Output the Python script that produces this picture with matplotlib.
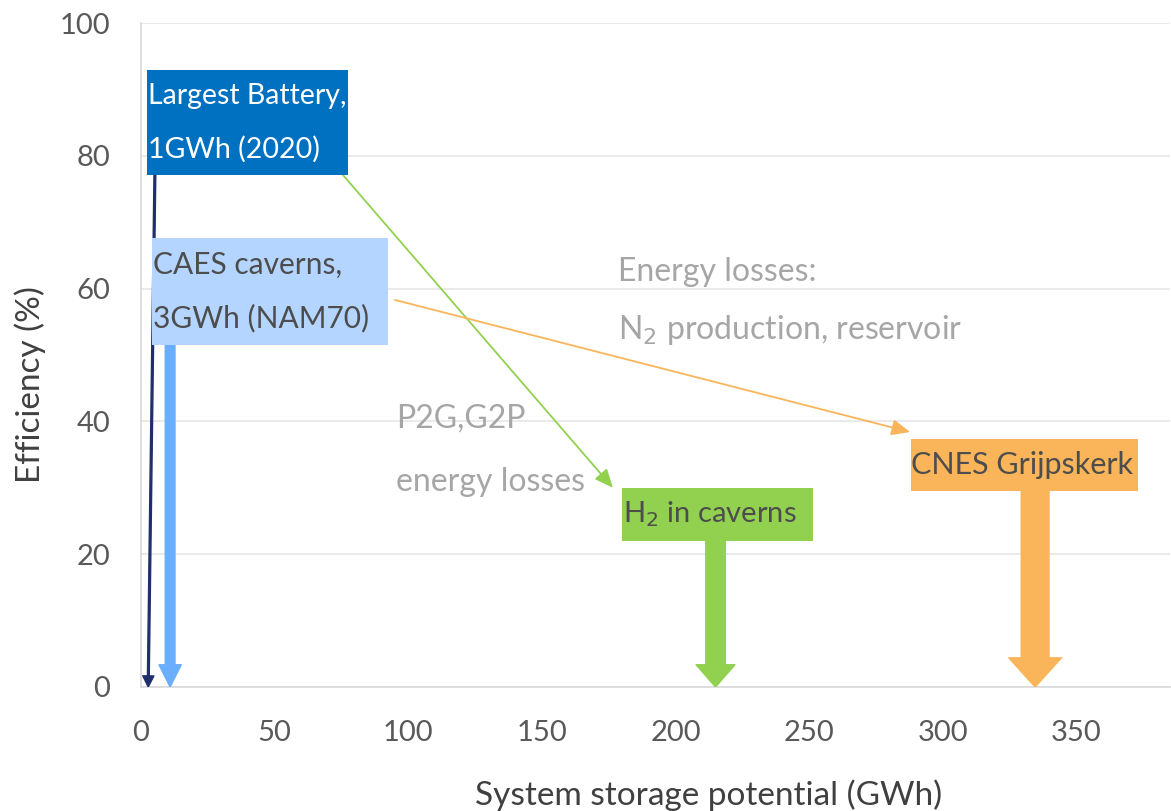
import matplotlib.pyplot as plt
from matplotlib.patches import Rectangle, FancyArrowPatch

plt.rcParams['font.family'] = ['Lato', 'DejaVu Sans']

# storage systems: vertical arrows from efficiency down to the x axis
systems = ["Largest Battery,\n1GWh (2020)", "CAES caverns,\n3GWh (NAM70)", "H$_2$ in caverns", "CNES Grijpskerk"]
arrow_x_top = [5.2, 10.9, 215, 334.6]
arrow_x_bottom = [2.7, 10.9, 215, 334.6]
arrow_y_top = [77.1, 51.5, 22.0, 29.5]
box_colors = ["#0070C0", "#B4D5FF", "#92D050", "#FAB55A"]
arrow_colors = ["#1F2F6B", "#6AAEFF", "#92D050", "#FAB55A"]
text_colors = ["white", "#4D4D4D", "#4D4D4D", "#4D4D4D"]
text_sizes = [20.5, 21.5, 21, 22]
# arrow sizes in points: shaft, head width, head length
shaft_w = [1.3, 7, 14, 20]
head_w = [8, 16, 28, 38]
head_l = [8, 16, 16, 21]

# label boxes (x0, x1, y0, y1)
box_x0 = [2.2, 4.1, 180.0, 288.0]
box_x1 = [77.5, 92.4, 251.5, 373.0]
box_y0 = [77.1, 51.5, 22.0, 29.5]
box_y1 = [92.9, 67.6, 30.0, 37.3]

# loss arrows between systems
loss_start = [(75.6, 77.1), (95.0, 58.3)]
loss_end = [(176.6, 30.0), (287.8, 38.4)]
loss_colors = ["#92D050", "#FAB55A"]

x_ticks = [0, 50, 100, 150, 200, 250, 300, 350]
y_ticks = [0, 20, 40, 60, 80, 100]

fig = plt.figure(figsize=(11.71, 8.11), dpi=100)
ax = fig.add_axes([0.1204, 0.1529, 0.8786, 0.8187])
ax.set_xlim(0, 385)
ax.set_ylim(0, 100)

ax.set_xticks(x_ticks)
ax.set_yticks(y_ticks)
ax.tick_params(length=0, labelsize=21, colors="#595959", pad=22)
ax.tick_params(axis="x", pad=24)
ax.grid(axis="y", color="#E6E6E6", linewidth=1.2)
ax.set_axisbelow(True)
for side in ["top", "right"]:
    ax.spines[side].set_visible(False)
for side in ["left", "bottom"]:
    ax.spines[side].set_color("#D9D9D9")
    ax.spines[side].set_linewidth(1.2)

ax.set_xlabel("System storage potential (GWh)", fontsize=24, color="#404040", va="center")
ax.xaxis.set_label_coords(0.552, -0.163)
ax.set_ylabel("Efficiency (%)", fontsize=24, color="#404040", va="center")
ax.yaxis.set_label_coords(-0.108, 0.455)

# vertical arrows
for i in range(len(systems)):
    style = "simple,head_width=%g,head_length=%g,tail_width=%g" % (head_w[i], head_l[i], shaft_w[i])
    arr = FancyArrowPatch((arrow_x_top[i], arrow_y_top[i]), (arrow_x_bottom[i], 0),
                          arrowstyle=style, mutation_scale=1, color=arrow_colors[i],
                          shrinkA=0, shrinkB=0, zorder=3)
    ax.add_patch(arr)

# boxes with labels
for i in range(len(systems)):
    ax.add_patch(Rectangle((box_x0[i], box_y0[i]), box_x1[i] - box_x0[i], box_y1[i] - box_y0[i],
                           facecolor=box_colors[i], edgecolor="none", zorder=4))
    lines = systems[i].split("\n")
    h = (box_y1[i] - box_y0[i]) / len(lines)
    for j, line in enumerate(lines):
        yc = box_y1[i] - h * (j + 0.5)
        ax.text(box_x0[i] + 0.3, yc, line, fontsize=text_sizes[i], color=text_colors[i],
                ha="left", va="center", zorder=5)

# loss arrows
for s, e, c in zip(loss_start, loss_end, loss_colors):
    ax.annotate("", xy=e, xytext=s,
                arrowprops=dict(arrowstyle="-|>,head_width=0.35,head_length=0.8",
                                color=c, lw=1.3, shrinkA=0, shrinkB=0, mutation_scale=14),
                zorder=2)

# loss annotations
gray = "#A6A6A6"
ax.text(178.5, 62.5, "Energy losses:", fontsize=23, color=gray, ha="left", va="center")
ax.text(178.5, 53.8, "N$_2$ production, reservoir", fontsize=23, color=gray, ha="left", va="center")
ax.text(95.4, 40.5, "P2G,G2P", fontsize=23, color=gray, ha="left", va="center")
ax.text(95.4, 30.9, "energy losses", fontsize=23, color=gray, ha="left", va="center")

fig.savefig("out.png", dpi=100)
